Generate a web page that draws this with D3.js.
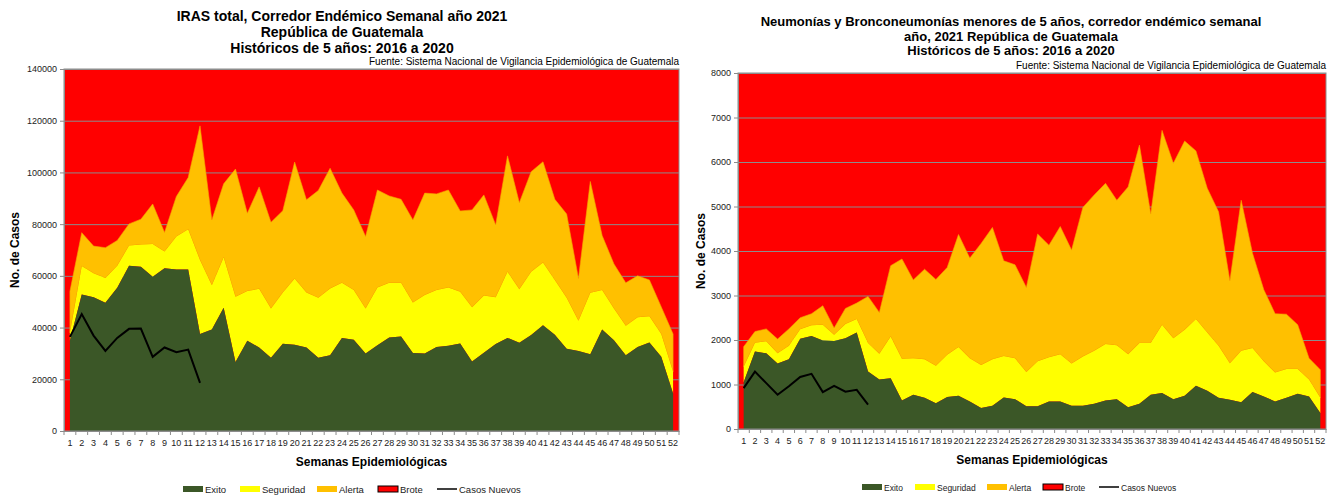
<!DOCTYPE html>
<html>
<head>
<meta charset="utf-8">
<script src="https://cdn.jsdelivr.net/npm/d3@7/dist/d3.min.js"></script>
<style>
    html, body { margin: 0; padding: 0; background: #fff; }
    svg { display: block; font-family: "Liberation Sans", Arial, sans-serif; }
</style>
</head>
<body>
<svg id="chart" width="1343" height="498"></svg>
<script>
// Corredor endémico semanal - dos gráficas lado a lado

const semanas = d3.range(1, 53);

// IRAS total (límite superior de cada zona)
const irasExito = [35000, 52800, 51700, 49600, 55400, 63900, 63500, 59700, 62900, 62500, 62500, 37500, 39300, 47700, 26700, 34900, 32300, 28300, 33700, 33400, 32300, 28300, 29300, 36000, 35300, 30000, 33200, 36200, 36500, 30200, 30000, 32500, 33000, 33800, 26900, 30300, 33600, 36000, 34100, 37100, 40900, 37200, 31800, 30900, 29700, 39300, 35100, 29300, 32500, 34200, 28700, 14500];
const irasSeguridad = [38000, 63800, 61000, 59200, 63900, 71700, 72100, 72300, 69400, 75200, 78000, 66100, 56400, 67200, 51900, 54100, 55000, 47400, 53600, 59000, 53600, 51500, 55100, 57300, 54500, 47400, 55500, 57300, 57300, 49700, 52600, 54500, 55500, 53900, 47900, 52400, 51700, 61600, 54800, 61600, 65200, 58400, 51500, 42600, 53500, 54500, 47400, 40700, 44000, 44400, 37500, 22900];
const irasAlerta = [54000, 76700, 71500, 70900, 73700, 80100, 81900, 87800, 76800, 90700, 98000, 118000, 81600, 95600, 101300, 84200, 94400, 80700, 85200, 104000, 89400, 93000, 101600, 92000, 85500, 75200, 93200, 90900, 89600, 81600, 92000, 91700, 93200, 85100, 85500, 91300, 79700, 106400, 88300, 100300, 104100, 89600, 83900, 59000, 96500, 75600, 64600, 57300, 60000, 58400, 48000, 37500];
const irasCasos = [36400, 45200, 36900, 31000, 36000, 39500, 39600, 28700, 32300, 30500, 31500, 18600];

// Neumonías y bronconeumonías < 5 años
const neuExito = [1050, 1740, 1700, 1470, 1570, 2030, 2090, 1990, 1980, 2040, 2170, 1290, 1110, 1140, 640, 770, 700, 580, 720, 750, 620, 470, 520, 710, 670, 510, 510, 620, 620, 520, 520, 570, 640, 670, 490, 570, 770, 810, 670, 750, 970, 860, 700, 660, 600, 830, 730, 620, 700, 790, 730, 360];
const neuSeguridad = [1400, 1940, 1970, 1700, 1870, 2240, 2330, 2340, 2120, 2360, 2470, 1930, 1690, 2080, 1580, 1590, 1570, 1420, 1670, 1840, 1590, 1440, 1570, 1640, 1590, 1280, 1520, 1610, 1680, 1470, 1630, 1760, 1910, 1880, 1680, 1930, 1930, 2340, 2040, 2230, 2470, 2170, 1870, 1480, 1760, 1820, 1520, 1270, 1350, 1350, 1110, 700];
const neuAlerta = [1850, 2190, 2250, 2020, 2250, 2500, 2590, 2770, 2270, 2710, 2830, 2980, 2620, 3670, 3820, 3350, 3590, 3360, 3630, 4370, 3840, 4170, 4530, 3780, 3690, 3180, 4380, 4130, 4550, 4020, 4980, 5260, 5520, 5140, 5440, 6380, 4830, 6710, 5970, 6470, 6250, 5410, 4880, 3330, 5140, 3950, 3130, 2590, 2580, 2340, 1590, 1330];
const neuCasos = [920, 1290, 1030, 770, 960, 1170, 1240, 830, 970, 840, 880, 550];

const legendNames = ['Exito', 'Seguridad', 'Alerta', 'Brote', 'Casos Nuevos'];
const fuente = 'Fuente: Sistema Nacional de Vigilancia Epidemiológica de Guatemala';

const COLORS = { exito: '#3b5727', seguridad: '#ffff00', alerta: '#ffc000', brote: '#ff0000', casos: '#000000' };

const svg = d3.select('#chart');

function drawChart(cfg) {
    const x = d3.scaleBand().domain(semanas).range([cfg.left, cfg.right]).padding(0);
    const cx = (d) => x(d) + x.bandwidth() / 2;
    const y = d3.scaleLinear().domain([0, cfg.max]).range([cfg.bottom, cfg.top]);
    const g = svg.append('g');

    // titulo
    const title = g.append('text')
        .attr('text-anchor', 'middle')
        .attr('font-weight', 'bold')
        .attr('font-size', cfg.titleSize + 'px')
        .attr('fill', '#000');
    cfg.title.forEach((line, i) => {
        title.append('tspan').attr('x', cfg.titleX).attr('y', cfg.titleY + i * cfg.titleGap).text(line);
    });
    g.append('text')
        .attr('x', cfg.right)
        .attr('y', cfg.top - 4)
        .attr('text-anchor', 'end')
        .attr('font-size', '10px')
        .text(fuente);

    // fondo rojo (Brote)
    g.append('rect')
        .attr('x', cfg.left).attr('y', cfg.top)
        .attr('width', cfg.right - cfg.left).attr('height', cfg.bottom - cfg.top)
        .attr('fill', COLORS.brote);

    const ticks = d3.range(0, cfg.max + 1, cfg.step);
    g.append('g')
        .attr('transform', `translate(${cfg.left},0)`)
        .call(d3.axisLeft(y).tickValues(ticks).tickSize(-(cfg.right - cfg.left)).tickFormat(''))
        .call((s) => s.select('.domain').remove())
        .call((s) => s.selectAll('line').attr('stroke', '#8c8c8c').attr('stroke-width', 1));

    const band = (lo, hi) => d3.area()
        .x((d, i) => cx(semanas[i]))
        .y0((d, i) => y(lo ? lo[i] : 0))
        .y1((d, i) => y(hi[i]));

    g.append('path').datum(cfg.alerta).attr('d', band(cfg.seguridad, cfg.alerta)(cfg.alerta))
        .attr('fill', COLORS.alerta).attr('stroke', '#f5a300').attr('stroke-width', 0.6);
    g.append('path').datum(cfg.seguridad).attr('d', band(cfg.exito, cfg.seguridad)(cfg.seguridad))
        .attr('fill', COLORS.seguridad);
    g.append('path').datum(cfg.exito).attr('d', band(null, cfg.exito)(cfg.exito))
        .attr('fill', COLORS.exito);

    g.append('path')
        .datum(cfg.casos)
        .attr('d', d3.line().x((d, i) => cx(semanas[i])).y((d) => y(d)))
        .attr('fill', 'none')
        .attr('stroke', COLORS.casos)
        .attr('stroke-width', 2);

    // borde del area de trazado
    g.append('rect')
        .attr('x', cfg.left).attr('y', cfg.top)
        .attr('width', cfg.right - cfg.left).attr('height', cfg.bottom - cfg.top)
        .attr('fill', 'none').attr('stroke', '#8c8c8c').attr('stroke-width', 1);

    // eje Y
    const yAxis = g.append('g')
        .attr('transform', `translate(${cfg.left},0)`)
        .call(d3.axisLeft(y).tickValues(ticks).tickSize(4).tickPadding(3).tickFormat(d3.format('d')));
    yAxis.selectAll('line, path').attr('stroke', '#8c8c8c');
    yAxis.selectAll('text').attr('font-size', '9px').attr('fill', '#222')
        .attr('font-family', '"Liberation Sans", Arial, sans-serif');

    // eje X
    const xAxis = g.append('g')
        .attr('transform', `translate(0,${cfg.bottom})`)
        .call(d3.axisBottom(x).tickSize(0).tickPadding(9));
    xAxis.select('.domain').attr('stroke', '#8c8c8c');
    xAxis.selectAll('text').attr('font-size', '9px').attr('fill', '#222')
        .attr('font-family', '"Liberation Sans", Arial, sans-serif');
    g.append('g').selectAll('line')
        .data(semanas.concat([null]))
        .enter().append('line')
        .attr('x1', (d) => d === null ? cfg.right : x(d))
        .attr('x2', (d) => d === null ? cfg.right : x(d))
        .attr('y1', cfg.bottom)
        .attr('y2', cfg.bottom + 4)
        .attr('stroke', '#8c8c8c');

    g.append('text')
        .attr('transform', `translate(${cfg.yTitleX},${(cfg.top + cfg.bottom) / 2}) rotate(-90)`)
        .attr('text-anchor', 'middle')
        .attr('font-weight', 'bold')
        .attr('font-size', '12px')
        .text('No. de Casos');
    g.append('text')
        .attr('x', (cfg.left + cfg.right) / 2)
        .attr('y', cfg.bottom + 35)
        .attr('text-anchor', 'middle')
        .attr('font-weight', 'bold')
        .attr('font-size', '12px')
        .text('Semanas Epidemiológicas');

    // leyenda
    const legendColors = [COLORS.exito, COLORS.seguridad, COLORS.alerta, COLORS.brote, COLORS.casos];
    const lg = g.append('g').attr('font-size', cfg.legendSize + 'px');
    legendNames.forEach((name, i) => {
        const lx = cfg.legendX[i];
        if (i === 4) {
            lg.append('line')
                .attr('x1', lx).attr('x2', lx + 20)
                .attr('y1', cfg.legendY).attr('y2', cfg.legendY)
                .attr('stroke', legendColors[i]).attr('stroke-width', 1.5);
        } else {
            lg.append('rect')
                .attr('x', lx).attr('y', cfg.legendY - 3)
                .attr('width', 20).attr('height', 6)
                .attr('fill', legendColors[i])
                .attr('stroke', i === 3 ? '#000' : 'none')
                .attr('stroke-width', 1);
        }
        lg.append('text')
            .attr('x', lx + 22)
            .attr('y', cfg.legendY + 3.5)
            .attr('fill', '#222')
            .text(name);
    });
}

drawChart({
    left: 64, right: 679, top: 69, bottom: 431,
    max: 140000, step: 20000,
    exito: irasExito, seguridad: irasSeguridad, alerta: irasAlerta, casos: irasCasos,
    title: ['IRAS total, Corredor Endémico Semanal año 2021', 'República de Guatemala', 'Históricos de 5 años: 2016 a 2020'],
    titleX: 342, titleY: 21, titleGap: 16, titleSize: 14,
    yTitleX: 19,
    legendX: [183, 240, 317, 378, 437], legendY: 489, legendSize: 9.5
});

drawChart({
    left: 738, right: 1326, top: 73, bottom: 429,
    max: 8000, step: 1000,
    exito: neuExito, seguridad: neuSeguridad, alerta: neuAlerta, casos: neuCasos,
    title: ['Neumonías y Bronconeumonías menores de 5 años, corredor endémico semanal', 'año, 2021 República de Guatemala', 'Históricos de 5 años: 2016 a 2020'],
    titleX: 1011, titleY: 26, titleGap: 14.5, titleSize: 13,
    yTitleX: 705,
    legendX: [862, 915, 987, 1043, 1099], legendY: 487, legendSize: 8.5
});
</script>
</body>
</html>
